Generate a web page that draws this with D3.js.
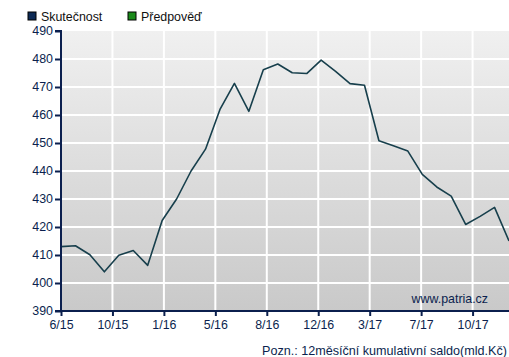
<!DOCTYPE html>
<html><head><meta charset="utf-8">
<script src="https://cdn.jsdelivr.net/npm/d3@7"></script>
<style>
body{margin:0;background:#fff;}
svg{display:block;font-family:"Liberation Sans",Arial,sans-serif;}
</style></head>
<body><svg id="c" width="509" height="357"></svg>
<script>
// Data
const months = ["6/15","7/15","8/15","9/15","10/15","11/15","12/15","1/16","2/16","3/16","4/16","5/16","6/16","7/16","8/16","9/16","10/16","11/16","12/16","1/17","2/17","3/17","4/17","5/17","6/17","7/17","8/17","9/17","10/17","11/17","12/17","1/18"];
const skutecnost = [413.0,413.3,410.1,404.0,409.9,411.6,406.3,422.3,430.0,440.0,447.8,462.0,471.3,461.3,476.2,478.2,475.1,474.8,479.6,475.6,471.2,470.6,450.8,449.0,447.1,438.8,434.3,431.0,420.9,423.8,427.0,415.0];
const xTickLabels = ["6/15","10/15","1/16","5/16","8/16","12/16","3/17","7/17","10/17"];
const xTickStep = 3.56; // months between labelled ticks
const yTicks = [390,400,410,420,430,440,450,460,470,480,490];
const legendItems = [{name:"Skutečnost",color:"#0d2a55"},{name:"Předpověď",color:"#1a8a1a"}];

const svg = d3.select("#c");
const L=61, R=509, T=31, B=311;
const x = d3.scaleLinear().domain([0, months.length-1]).range([L,R]);
const y = d3.scaleLinear().domain([390,490]).range([B,T]);
const navy = "#0b1f4e";

// gradient background
const defs = svg.append("defs");
const g = defs.append("linearGradient").attr("id","bg").attr("x1",0).attr("y1",0).attr("x2",0).attr("y2",1);
g.append("stop").attr("offset","0%").attr("stop-color","#f0f0f0");
g.append("stop").attr("offset","100%").attr("stop-color","#c9c9c9");
svg.append("rect").attr("x",L).attr("y",T).attr("width",R-L).attr("height",B-T).attr("fill","url(#bg)");

const tickPos = xTickLabels.map((d,i)=>i*xTickStep);

// gridlines
svg.append("g").selectAll("line").data(yTicks.slice(1,-1)).join("line")
  .attr("x1",L).attr("x2",R).attr("y1",d=>y(d)).attr("y2",d=>y(d))
  .attr("stroke","#fff").attr("stroke-width",2);
svg.append("g").selectAll("line").data(tickPos.slice(1)).join("line")
  .attr("y1",T).attr("y2",B).attr("x1",d=>x(d)).attr("x2",d=>x(d))
  .attr("stroke","#fff").attr("stroke-width",2);

// line
svg.append("path").datum(skutecnost)
  .attr("d", d3.line().x((d,i)=>x(i)).y(d=>y(d)))
  .attr("fill","none").attr("stroke","#173f4c").attr("stroke-width",1.6).attr("stroke-linejoin","round");

// axes
const yAxis = svg.append("g").attr("transform",`translate(${L},0)`)
  .call(d3.axisLeft(y).tickValues(yTicks).tickSize(6).tickPadding(2).tickFormat(d3.format("d")));
const xAxis = svg.append("g").attr("transform",`translate(0,${B})`)
  .call(d3.axisBottom(x).tickValues(tickPos).tickSize(5).tickPadding(4).tickFormat((d,i)=>xTickLabels[i]));
[yAxis,xAxis].forEach(a=>{
  a.select(".domain").attr("stroke",navy).attr("stroke-width",2);
  a.selectAll(".tick line").attr("stroke",navy).attr("stroke-width",2);
  a.selectAll("text").attr("fill",navy).attr("font-size",12.4).attr("font-family","Liberation Sans, Arial, sans-serif");
});
yAxis.select(".domain").attr("d",`M-6,${T}H0V${B}H-6`);
xAxis.select(".domain").attr("d",`M${L},0H${R}`);

// legend
const lg = svg.append("g").selectAll("g").data(legendItems).join("g")
  .attr("transform",(d,i)=>`translate(${28+i*100},12)`);
lg.append("rect").attr("width",8).attr("height",8).attr("fill",d=>d.color).attr("stroke","#000").attr("stroke-width",1);
lg.append("text").attr("x",13).attr("y",8.5).text(d=>d.name).attr("font-size",12.4).attr("fill","#111");

// watermark & footnote
svg.append("text").attr("x",488).attr("y",303).attr("text-anchor","end").attr("font-size",12.4).attr("fill",navy).text("www.patria.cz");
svg.append("text").attr("x",507).attr("y",355).attr("text-anchor","end").attr("font-size",12.6).attr("fill",navy).text("Pozn.: 12měsíční kumulativní saldo(mld.Kč)");
</script></body></html>
